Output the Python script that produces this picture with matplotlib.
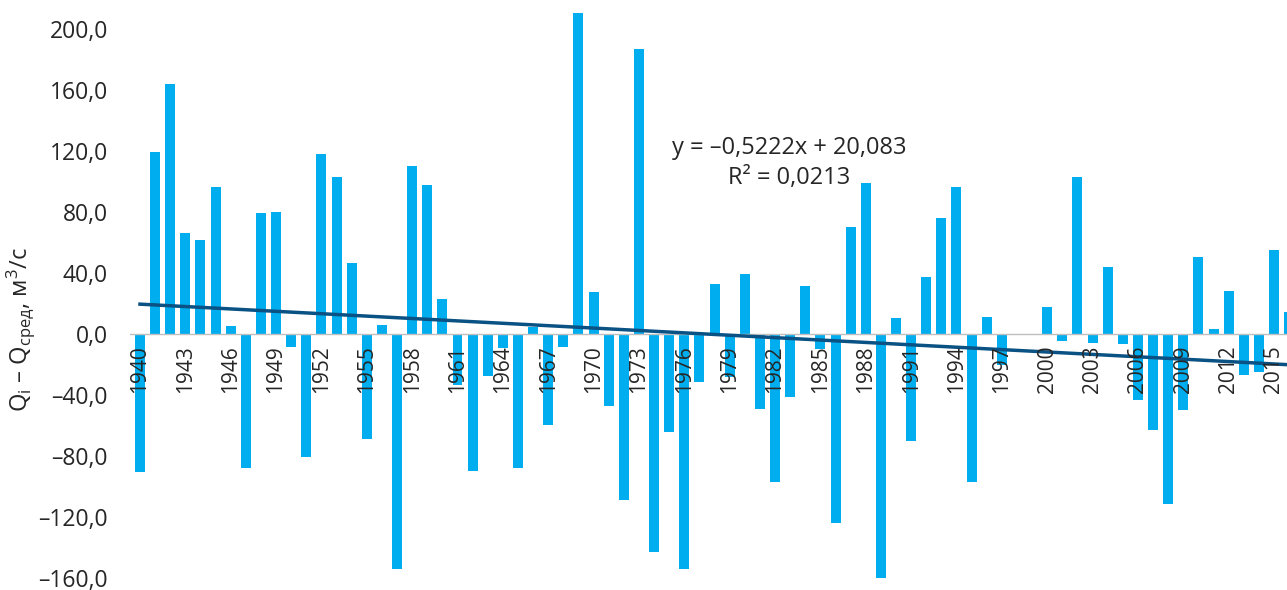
import matplotlib
matplotlib.use("Agg")
import matplotlib.pyplot as plt
import numpy as np

plt.rcParams['font.family'] = ['Open Sans', 'DejaVu Sans']
plt.rcParams['mathtext.fontset'] = 'custom'
plt.rcParams['mathtext.rm'] = 'Open Sans'
plt.rcParams['mathtext.it'] = 'Open Sans'

years = list(range(1940, 2017))
values = [
    -90.4, 118.9, 163.9, 66.1, 61.4, 96.1, 5.4, -87.5, 79.1, 79.9,
    -8.4, -80.3, 117.7, 102.7, 46.4, -68.8, 5.9, -154.0, 109.8, 97.3,
    22.9, -33.4, -89.7, -27.8, -9.2, -87.5, 4.4, -59.7, -8.4, 210.3,
    27.5, -47.4, -108.6, 186.7, -142.8, -64.4, -153.8, -31.7, 32.7, -28.0,
    39.3, -49.4, -97.0, -41.5, 31.4, -10.0, -123.8, 70.0, 98.8, -159.7,
    10.6, -70.3, 37.3, 75.9, 96.1, -97.0, 11.3, -20.0, 0.0, 0.0,
    17.7, -4.4, 102.7, -5.9, 43.7, -6.4, -43.0, -63.1, -111.5, -49.6,
    50.4, 3.4, 28.3, -26.8, -25.1, 55.0, 14.4,
]
label_years = years[::3]
yticks = [200, 160, 120, 80, 40, 0, -40, -80, -120, -160]
trend_slope = -0.5222
trend_intercept = 20.083
eq_text = "y = –0,5222x + 20,083"
r2_text = "R² = 0,0213"

W, H = 1287, 590
fig = plt.figure(figsize=(W / 100, H / 100), dpi=100)
ax = fig.add_axes([130 / W, 0, (W - 130) / W, 1])

idx = np.arange(len(years))
ax.bar(idx, values, width=0.66, color='#00AEEF', zorder=2)

# trend line (Excel linear trend, x = 1..n)
xt = idx + 1
ax.plot(idx, trend_slope * xt + trend_intercept, color='#095283', lw=2.5, zorder=4)

ax.axhline(0, color='#BFBFBF', lw=1.0, zorder=3)

ax.set_xlim(-0.66, (W - 140) / 15.12)
ax.set_ylim(-167.6, 218.7)

for s in ax.spines.values():
    s.set_visible(False)
ax.set_xticks([])
ax.set_yticks(yticks)
ax.set_yticklabels([f"{v:.1f}".replace('.', ',').replace('-', '–') for v in yticks],
                   fontsize=16.5, color='#262626')
ax.tick_params(axis='y', length=0, pad=16)

for y in label_years:
    i = years.index(y)
    ax.annotate(str(y), xy=(i, 0), xytext=(0, -8), textcoords='offset points',
                rotation=90, ha='center', va='top', fontsize=15,
                color='#262626', zorder=5)

fig.text(21 / W, 1 - 330 / H,
         r'$\mathregular{Q_i}$ – $\mathregular{Q_{сред}}$, м$^\mathregular{3}$/с',
         rotation=90, ha='center', va='center', fontsize=17, color='#262626')

fig.text(789 / W, 1 - 148 / H, eq_text, ha='center', va='center',
         fontsize=17, color='#262626')
fig.text(789 / W, 1 - 178 / H, r2_text, ha='center', va='center',
         fontsize=17, color='#262626')

fig.savefig('out.png', dpi=100)
